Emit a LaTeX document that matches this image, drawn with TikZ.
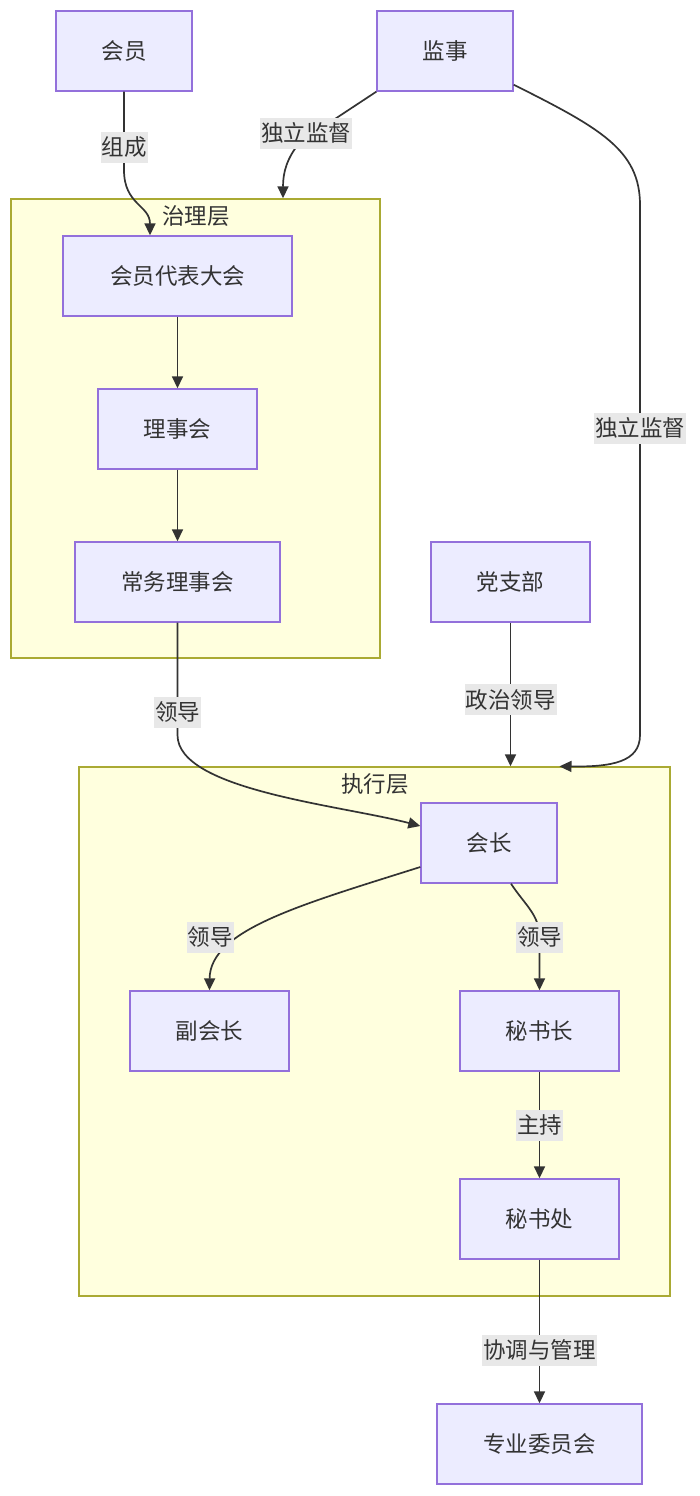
\documentclass[tikz,border=0pt]{standalone}
\usepackage{fontspec}
\setmainfont{Noto Sans CJK SC}
\usetikzlibrary{arrows.meta}
\definecolor{boxfill}{HTML}{ECECFF}
\definecolor{boxline}{HTML}{9370DB}
\definecolor{layerfill}{HTML}{FFFFDE}
\definecolor{layerline}{HTML}{AAAA33}
\definecolor{edgeline}{HTML}{333333}
\definecolor{lblfill}{HTML}{E8E8E8}

\begin{document}
\begin{tikzpicture}[x=1pt, y=-1pt,
    font=\fontsize{22.5pt}{27pt}\selectfont, text=edgeline,
    box/.style={draw=boxline, fill=boxfill, line width=1.4pt, minimum height=80pt, inner sep=0pt},
    layer/.style={draw=layerline, fill=layerfill, line width=1.4pt, inner sep=0pt},
    flow/.style={draw=edgeline, line width=1.7pt, -{Triangle[length=12pt,width=11pt]}},
    lbl/.style={fill=lblfill, inner xsep=1pt, inner ysep=0pt, minimum height=31pt}]
    \useasboundingbox (0,0) rectangle (700,1496);
    % layers
    \node[layer, minimum width=369pt, minimum height=459pt] (zhili) at (195.5,428.5) {};
    \node (zhiliT) at (196,216) {治理层};
    \node[layer, minimum width=591pt, minimum height=529pt] (zhixing) at (374.5,1031.5) {};
    \node (zhixingT) at (375,784) {执行层};
    % nodes
    \node[box, minimum width=136pt] (huiyuan) at (124,51) {会员};
    \node[box, minimum width=136pt] (jianshi) at (445,51) {监事};
    \node[box, minimum width=229pt] (daibiao) at (177.5,276) {会员代表大会};
    \node[box, minimum width=159pt] (lishi) at (177.5,429) {理事会};
    \node[box, minimum width=205pt] (changwu) at (177.5,582) {常务理事会};
    \node[box, minimum width=159pt] (dang) at (510.5,582) {党支部};
    \node[box, minimum width=136pt] (huizhang) at (489,843) {会长};
    \node[box, minimum width=159pt] (fu) at (209.5,1031) {副会长};
    \node[box, minimum width=159pt] (mishuzhang) at (539.5,1031) {秘书长};
    \node[box, minimum width=159pt] (mishuchu) at (539.5,1219) {秘书处};
    \node[box, minimum width=205pt] (zhuanye) at (539.5,1444) {专业委员会};
    % edges
    \draw[flow] (huiyuan.south) -- (124,147) node[lbl] {组成} -- (124,170)
        .. controls (124,205) and (150,205) .. ([xshift=-27.5pt]daibiao.north);
    \draw[flow] (jianshi.south west) -- (300,142)
        .. controls (287,158) and (283,172) .. ([xshift=87.5pt]zhili.north)
        node[lbl] at (306,133) {独立监督};
    \draw[flow] ([yshift=7pt]jianshi.south east) .. controls (600,128) and (640,150) .. (640,205)
        -- (640,428) node[lbl] {独立监督} -- (640,735)
        .. controls (640,762) and (612,767) .. ([xshift=185pt]zhixing.north);
    \draw[flow] (daibiao) -- (lishi);
    \draw[flow] (lishi) -- (changwu);
    \draw[flow] (changwu.south) -- (177.5,712) node[lbl] {领导} -- (177.5,735)
        .. controls (177.5,790) and (340,805) .. ([yshift=17pt]huizhang.west);
    \draw[flow] (dang.south) -- (510.5,699.5) node[lbl] {政治领导} -- (dang.south |- zhixing.north);
    \draw[flow] ([yshift=-24pt]huizhang.west) .. controls (300,905) and (210,930) .. (fu.north)
        node[lbl] at (210,937) {领导};
    \draw[flow] ([xshift=22pt]huizhang.south) .. controls (525,905) and (539.5,915) .. (539.5,937)
        node[lbl] {领导} -- (mishuzhang.north);
    \draw[flow] (mishuzhang) -- (mishuchu) node[lbl, midway] {主持};
    \draw[flow] (mishuchu) -- (539.5,1350) node[lbl] {协调与管理} -- (zhuanye);
\end{tikzpicture}
\end{document}
